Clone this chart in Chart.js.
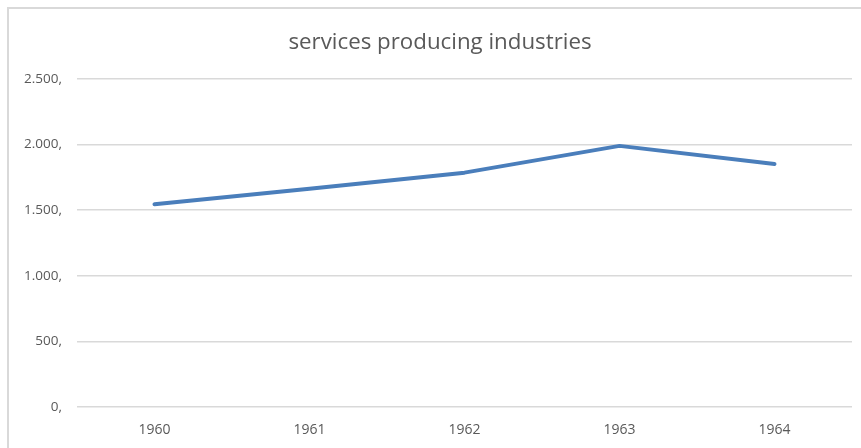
<!DOCTYPE html>
<html>
<head>
<meta charset="utf-8">
<script src="https://cdn.jsdelivr.net/npm/chart.js@4/dist/chart.umd.min.js"></script>
<style>
  html, body { margin: 0; padding: 0; background: #fff; overflow: hidden; }
  #wrap { position: relative; width: 861px; height: 448px; }
  #frame { position: absolute; left: 7px; top: 7px; width: 900px; height: 500px;
           border: 2px solid #d9d9d9; box-sizing: border-box; }
  #cv { position: absolute; left: 0; top: 0; }
</style>
</head>
<body>
<div id="wrap">
  <div id="frame"></div>
  <canvas id="cv" width="861" height="448"></canvas>
</div>
<script>
// Jahre und Werte der Reihe
const years = ['1960', '1961', '1962', '1963', '1964'];
const services = [1545, 1663, 1786, 1990, 1852];
const yTicks = [0, 500, 1000, 1500, 2000, 2500];

const textColor = '#595959';
const fontFamily = '"Open Sans", sans-serif';

// Zahlen wie "2.500," formatieren
function fmt(v) {
  return String(v).replace(/\B(?=(\d{3})+(?!\d))/g, '.') + ',';
}

// Titel mittig über dem ganzen Rahmen statt nur über der Zeichenfläche
const titleShift = {
  id: 'titleShift',
  afterLayout(chart) {
    const t = chart.titleBlock;
    if (t) { t.left = 28; t.width = t.right - t.left; }
  }
};

const ctx = document.getElementById('cv').getContext('2d');

new Chart(ctx, {
  type: 'line',
  data: {
    labels: years,
    datasets: [{
      label: 'services producing industries',
      data: services,
      borderColor: '#4a7ebb',
      borderWidth: 4,
      borderCapStyle: 'round',
      borderJoinStyle: 'round',
      pointRadius: 0,
      tension: 0,
      fill: false
    }]
  },
  options: {
    responsive: false,
    animation: false,
    layout: { padding: { left: 0, right: 9, top: 0, bottom: 0 } },
    plugins: {
      legend: { display: false },
      tooltip: { enabled: false },
      title: {
        display: true,
        text: 'services producing industries',
        color: textColor,
        font: { family: fontFamily, size: 22.3, weight: 'normal' },
        padding: { top: 29, bottom: 23.2 }
      }
    },
    scales: {
      x: {
        offset: true,
        grid: { display: false, drawTicks: false },
        border: { display: false },
        ticks: {
          color: textColor,
          font: { family: fontFamily, size: 14 },
          padding: 15,
          maxRotation: 0
        },
        afterFit: s => { s.height = 41; }
      },
      y: {
        min: 0,
        max: 2500,
        afterBuildTicks: s => { s.ticks = yTicks.map(v => ({ value: v })); },
        grid: { color: '#d9d9d9', lineWidth: 1.5, drawTicks: false },
        border: { display: false },
        ticks: {
          color: textColor,
          font: { family: fontFamily, size: 13.5 },
          padding: 15,
          callback: v => fmt(v)
        },
        afterFit: s => { s.width = 77; }
      }
    }
  },
  plugins: [titleShift]
});
</script>
</body>
</html>
